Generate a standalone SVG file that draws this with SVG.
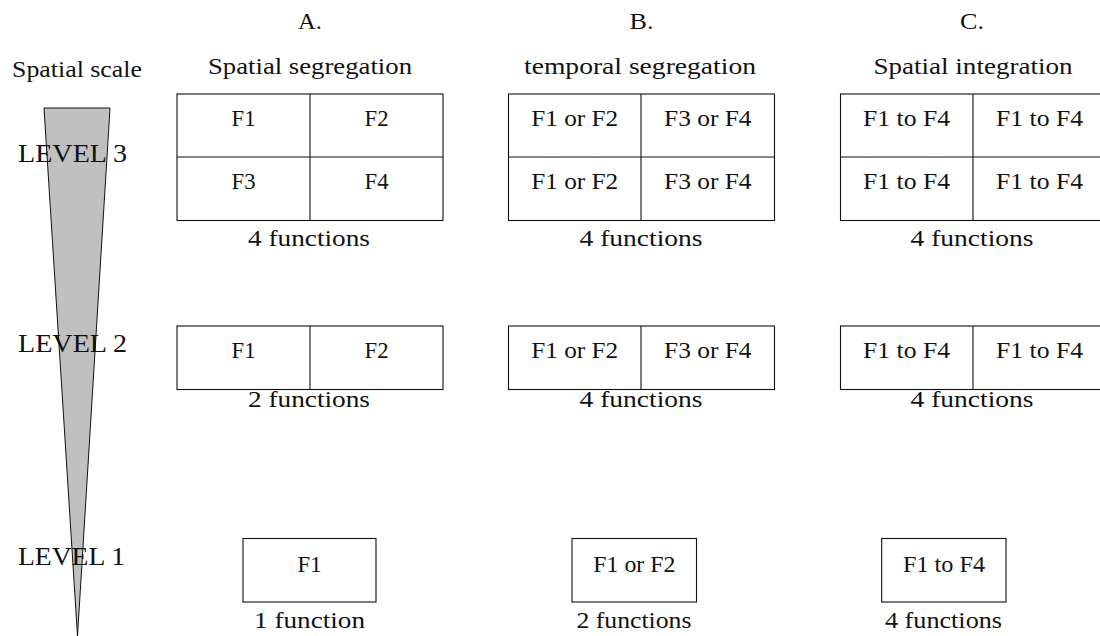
<svg xmlns="http://www.w3.org/2000/svg" width="1100" height="636" viewBox="0 0 1100 636">
<style>
  text { font-family: "Liberation Serif", "Times New Roman", serif; fill: #111; text-anchor: middle; }
  .h { font-size: 23.5px; }
  .c { font-size: 23.5px; }
  .s { font-size: 22.5px; }
  .lv { font-size: 25px; text-anchor: start; }
  .box { fill: #fff; stroke: #111; stroke-width: 1.1; }
  .div { stroke: #111; stroke-width: 1.1; fill: none; }
</style>
<rect width="1100" height="636" fill="#fff"/>

<g id="scale">
  <polygon points="44,108 110,108 77.5,636" fill="#c0c0c0" stroke="#111" stroke-width="1"/>
  <text class="h" x="77" y="77" textLength="130" lengthAdjust="spacingAndGlyphs">Spatial scale</text>
  <text class="lv" x="18" y="162" textLength="109" lengthAdjust="spacingAndGlyphs">LEVEL 3</text>
  <text class="lv" x="18" y="352" textLength="109" lengthAdjust="spacingAndGlyphs">LEVEL 2</text>
  <text class="lv" x="18" y="565" textLength="107" lengthAdjust="spacingAndGlyphs">LEVEL 1</text>
</g>

<g id="headers">
  <text class="h" x="310" y="29" textLength="24" lengthAdjust="spacingAndGlyphs">A.</text>
  <text class="h" x="641.5" y="29" textLength="24" lengthAdjust="spacingAndGlyphs">B.</text>
  <text class="h" x="972" y="29" textLength="24" lengthAdjust="spacingAndGlyphs">C.</text>
  <text class="h" x="310" y="73.5" textLength="204" lengthAdjust="spacingAndGlyphs">Spatial segregation</text>
  <text class="h" x="640" y="73.5" textLength="232" lengthAdjust="spacingAndGlyphs">temporal segregation</text>
  <text class="h" x="973" y="73.5" textLength="199" lengthAdjust="spacingAndGlyphs">Spatial integration</text>
</g>

<g id="A3">
  <rect class="box" x="177" y="94" width="266" height="126.5"/>
  <line class="div" x1="310" y1="94" x2="310" y2="220.5"/>
  <line class="div" x1="177" y1="157" x2="443" y2="157"/>
  <text class="c" x="243.5" y="126" textLength="24" lengthAdjust="spacingAndGlyphs">F1</text>
  <text class="c" x="376.5" y="126" textLength="24" lengthAdjust="spacingAndGlyphs">F2</text>
  <text class="c" x="243.5" y="189" textLength="24" lengthAdjust="spacingAndGlyphs">F3</text>
  <text class="c" x="376.5" y="189" textLength="24" lengthAdjust="spacingAndGlyphs">F4</text>
  <text class="h" x="309" y="246" textLength="122" lengthAdjust="spacingAndGlyphs">4 functions</text>
</g>

<g id="B3">
  <rect class="box" x="508.5" y="94" width="266" height="126.5"/>
  <line class="div" x1="641" y1="94" x2="641" y2="220.5"/>
  <line class="div" x1="508.5" y1="157" x2="774.5" y2="157"/>
  <text class="c" x="574.7" y="126" textLength="87" lengthAdjust="spacingAndGlyphs">F1 or F2</text>
  <text class="c" x="707.8" y="126" textLength="87.5" lengthAdjust="spacingAndGlyphs">F3 or F4</text>
  <text class="c" x="574.7" y="189" textLength="87" lengthAdjust="spacingAndGlyphs">F1 or F2</text>
  <text class="c" x="707.8" y="189" textLength="87.5" lengthAdjust="spacingAndGlyphs">F3 or F4</text>
  <text class="h" x="641" y="246" textLength="123" lengthAdjust="spacingAndGlyphs">4 functions</text>
</g>

<g id="C3">
  <rect class="box" x="840.5" y="94" width="266" height="126.5"/>
  <line class="div" x1="973" y1="94" x2="973" y2="220.5"/>
  <line class="div" x1="840.5" y1="157" x2="1106.5" y2="157"/>
  <text class="c" x="906.5" y="126" textLength="87" lengthAdjust="spacingAndGlyphs">F1 to F4</text>
  <text class="c" x="1039.5" y="126" textLength="87" lengthAdjust="spacingAndGlyphs">F1 to F4</text>
  <text class="c" x="906.5" y="189" textLength="87" lengthAdjust="spacingAndGlyphs">F1 to F4</text>
  <text class="c" x="1039.5" y="189" textLength="87" lengthAdjust="spacingAndGlyphs">F1 to F4</text>
  <text class="h" x="972" y="246" textLength="123" lengthAdjust="spacingAndGlyphs">4 functions</text>
</g>

<g id="A2">
  <rect class="box" x="177" y="326" width="266" height="63.5"/>
  <line class="div" x1="310" y1="326" x2="310" y2="389.5"/>
  <text class="c" x="243.5" y="358" textLength="24" lengthAdjust="spacingAndGlyphs">F1</text>
  <text class="c" x="376.5" y="358" textLength="24" lengthAdjust="spacingAndGlyphs">F2</text>
  <text class="h" x="309" y="407" textLength="122" lengthAdjust="spacingAndGlyphs">2 functions</text>
</g>

<g id="B2">
  <rect class="box" x="508.5" y="326" width="266" height="63.5"/>
  <line class="div" x1="641" y1="326" x2="641" y2="389.5"/>
  <text class="c" x="574.7" y="358" textLength="87" lengthAdjust="spacingAndGlyphs">F1 or F2</text>
  <text class="c" x="707.8" y="358" textLength="87.5" lengthAdjust="spacingAndGlyphs">F3 or F4</text>
  <text class="h" x="641" y="407" textLength="123" lengthAdjust="spacingAndGlyphs">4 functions</text>
</g>

<g id="C2">
  <rect class="box" x="840.5" y="326" width="266" height="63.5"/>
  <line class="div" x1="973" y1="326" x2="973" y2="389.5"/>
  <text class="c" x="906.5" y="358" textLength="87" lengthAdjust="spacingAndGlyphs">F1 to F4</text>
  <text class="c" x="1039.5" y="358" textLength="87" lengthAdjust="spacingAndGlyphs">F1 to F4</text>
  <text class="h" x="972" y="407" textLength="123" lengthAdjust="spacingAndGlyphs">4 functions</text>
</g>

<g id="A1">
  <rect class="box" x="243" y="538.5" width="133" height="63.5"/>
  <text class="s" x="309.5" y="572" textLength="24" lengthAdjust="spacingAndGlyphs">F1</text>
  <text class="s" x="309.5" y="628" textLength="111" lengthAdjust="spacingAndGlyphs">1 function</text>
</g>

<g id="B1">
  <rect class="box" x="572" y="538.5" width="124.5" height="63.5"/>
  <text class="s" x="634.3" y="572" textLength="82" lengthAdjust="spacingAndGlyphs">F1 or F2</text>
  <text class="s" x="634" y="628" textLength="115" lengthAdjust="spacingAndGlyphs">2 functions</text>
</g>

<g id="C1">
  <rect class="box" x="881.7" y="538.5" width="124.3" height="63.5"/>
  <text class="s" x="944" y="572" textLength="82" lengthAdjust="spacingAndGlyphs">F1 to F4</text>
  <text class="s" x="943.5" y="628" textLength="117" lengthAdjust="spacingAndGlyphs">4 functions</text>
</g>

<g id="connectors"/>
</svg>
